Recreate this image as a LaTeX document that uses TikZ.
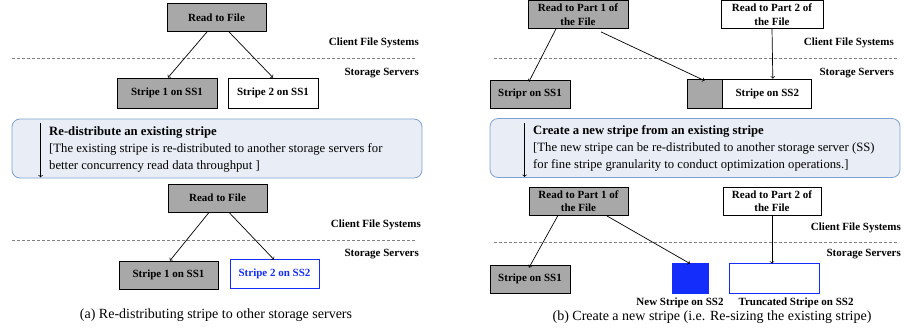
\documentclass[tikz,border=0pt]{standalone}
\usepackage{fontspec}
\setmainfont{Liberation Serif}
\definecolor{boxgray}{RGB}{168,168,168}
\definecolor{ssblue}{RGB}{20,45,250}
\definecolor{calloutfill}{RGB}{233,238,246}
\definecolor{calloutline}{RGB}{125,162,207}
\begin{document}
\begin{tikzpicture}[x=1pt,y=-1pt,
  blk/.style={draw, line width=0.8pt, inner sep=0pt, minimum height=28pt, align=center,
    font=\fontsize{11}{13.5}\selectfont\bfseries},
  grayblk/.style={blk, fill=boxgray},
  blueblk/.style={blk, draw=ssblue, text=ssblue},
  tag/.style={font=\fontsize{11}{13}\selectfont\bfseries, inner sep=0pt},
  sep/.style={densely dashed, gray, line width=0.6pt},
  callout/.style={draw=calloutline, fill=calloutfill, rounded corners=8pt, line width=0.8pt,
    minimum width=410pt, minimum height=59pt},
  note/.style={anchor=north west, align=left, inner sep=0pt, font=\fontsize{12.7}{17}\selectfont},
  subcap/.style={font=\fontsize{14}{16}\selectfont, inner sep=0pt},
  link/.style={->, line width=0.7pt}]
\useasboundingbox (0,0) rectangle (904,333);

\node[grayblk, minimum width=99pt] (rf) at (216.5,17.5) {Read to File};
\node[grayblk, minimum width=100pt, minimum height=30pt] (s1) at (167,93) {Stripe 1 on SS1};
\node[blk, minimum width=90pt, minimum height=30pt] (s2) at (273,93) {Stripe 2 on SS1};
\node[tag, anchor=east] (cfs1) at (419,43) {Client File Systems};
\node[tag, anchor=east] (sts1) at (419,73) {Storage Servers};
\draw[sep] (12,58) -- (415,58);
\draw[link] ([xshift=-9.5pt]rf.south) -- ([xshift=1pt]s1.north);
\draw[link] ([xshift=12.5pt]rf.south) -- (s2.north);

\node[callout] (box1) at (217,148.5) {};
\draw[link] ([xshift=29pt,yshift=-4pt]box1.north west) -- ([xshift=29pt,yshift=1pt]box1.south west);
\node[note] (txt1) at (49,126) {\textbf{Re-distribute an existing stripe}\\
  {[}The existing stripe is re-distributed to another storage servers for\\
  better concurrency read data throughput ]};

\node[grayblk, minimum width=99pt] (rf2) at (217.5,198) {Read to File};
\node[grayblk, minimum width=99pt] (u1) at (168.5,275) {Stripe 1 on SS1};
\node[blueblk, minimum width=89pt, minimum height=29pt] (u2) at (274.5,273.5) {Stripe 2 on SS2};
\node[tag, anchor=east] (cfs2) at (421,225) {Client File Systems};
\node[tag, anchor=east] (sts2) at (419,254) {Storage Servers};
\draw[sep] (12,240) -- (416,240);
\draw[link] ([xshift=-8.5pt]rf2.south) -- ([xshift=1.5pt]u1.north);
\draw[link] ([xshift=11.5pt]rf2.south) -- ([xshift=-0.5pt,yshift=-1pt]u2.north);
\node[subcap] (capa) at (216,315) {(a) Re-distributing stripe to other storage servers};

\node[grayblk, minimum width=100pt] (p1) at (578,14.5) {Read to Part 1 of\\the File};
\node[blk, minimum width=102pt] (p2) at (772,14.5) {Read to Part 2 of\\the File};
\node[grayblk, minimum width=80pt] (r1) at (530,94) {Stripr on SS1};
\node[grayblk, minimum width=35pt, minimum height=29pt] (g1) at (704.5,93.5) {};
\node[blk, minimum width=89pt, minimum height=29pt, anchor=west] (r2) at (g1.east) {Stripe on SS2};
\node[tag, anchor=east] (cfs3) at (894,43) {Client File Systems};
\node[tag, anchor=east] (sts3) at (894,73) {Storage Servers};
\draw[sep] (494,58) -- (899,58);
\draw[link] ([xshift=-22pt]p1.south) -- ([xshift=-1pt,yshift=-2pt]r1.north);
\draw[link] ([xshift=23pt,yshift=-3pt]p1.south) -- ([yshift=-2pt]g1.north);
\draw[link] (p2.south) -- ([xshift=5.5pt]r2.north);

\node[callout] (box2) at (695,148) {};
\draw[link] ([xshift=35pt,yshift=-5pt]box2.north west) -- ([xshift=35pt,yshift=1pt]box2.south west);
\node[note] (txt2) at (533,125) {\textbf{Create a new stripe from an existing stripe}\\
  {[}The new stripe can be re-distributed to another storage server (SS)\\
  for fine stripe granularity to conduct optimization operations.]};

\node[grayblk, minimum width=99pt] (q1) at (578.5,201) {Read to Part 1 of\\the File};
\node[blk, minimum width=98pt] (q2) at (772,201) {Read to Part 2 of\\the File};
\node[grayblk, minimum width=80pt] (t1) at (530,279) {Stripe on SS1};
\node[blk, draw=ssblue, fill=ssblue, minimum width=36pt, minimum height=30pt] (nb) at (690,278) {};
\node[blk, draw=ssblue, minimum width=90pt, minimum height=30pt] (tb) at (774,278) {};
\node[tag] (nbl) at (680,303) {New Stripe on SS2};
\node[tag] (tbl) at (796,303) {Truncated Stripe on SS2};
\node[tag, anchor=east] (cfs4) at (901,228) {Client File Systems};
\node[tag, anchor=east] (sts4) at (901,254) {Storage Servers};
\draw[sep] (494,242) -- (899,242);
\draw[link] ([xshift=-20.5pt]q1.south) -- ([xshift=-1pt,yshift=-3pt]t1.north);
\draw[link] ([xshift=27.5pt]q1.south) -- ([yshift=-1pt]nb.north);
\draw[link] (q2.south) -- ([xshift=-2pt,yshift=-1pt]tb.north);
\node[subcap] (capb) at (712,317) {(b) Create a new stripe (i.e. Re-sizing the existing stripe)};
\end{tikzpicture}
\end{document}
